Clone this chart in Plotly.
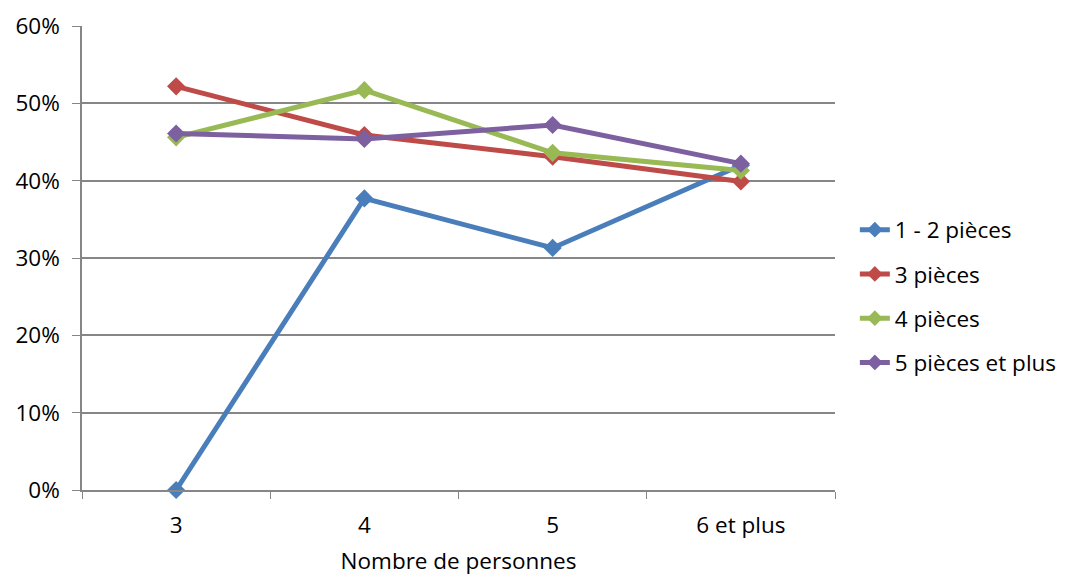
import plotly.graph_objects as go

categories = ["3", "4", "5", "6 et plus"]
series_names = ["1 - 2 pièces", "3 pièces", "4 pièces", "5 pièces et plus"]
pieces_1_2 = [0.0, 0.377, 0.313, 0.420]
pieces_3 = [0.522, 0.459, 0.431, 0.399]
pieces_4 = [0.456, 0.517, 0.436, 0.413]
pieces_5_plus = [0.461, 0.454, 0.472, 0.422]
y_ticks = [0, 0.1, 0.2, 0.3, 0.4, 0.5, 0.6]

colors = ["#4A7EBB", "#BE4B48", "#98B954", "#7D60A0"]
values = [pieces_1_2, pieces_3, pieces_4, pieces_5_plus]

FONT = "'Open Sans', Lato, sans-serif"
FS = 22.5
AXIS_GREY = "#868686"

fig = go.Figure()
for i, (name, vals, col) in enumerate(zip(series_names, values, colors)):
    fig.add_trace(go.Scatter(
        x=categories, y=vals, name=name, mode="lines+markers",
        legendgroup=f"g{i}",
        line=dict(color=col, width=5),
        marker=dict(symbol="diamond", size=14, color=col),
        cliponaxis=False,
    ))

fig.update_layout(
    width=1073, height=576,
    margin=dict(l=82, r=237, t=26, b=86),
    plot_bgcolor="white", paper_bgcolor="white",
    font=dict(family=FONT, size=FS, color="#000000"),
    showlegend=True,
    legend=dict(x=1.025, y=0.418, xanchor="left", yanchor="middle",
                font=dict(size=FS), tracegroupgap=12, itemsizing="constant",
                bgcolor="rgba(0,0,0,0)"),
    xaxis=dict(
        type="category", tickson="boundaries", ticks="outside", ticklen=7,
        tickcolor=AXIS_GREY, showline=True, linecolor=AXIS_GREY, linewidth=1.5,
        showgrid=False, zeroline=False, range=[-0.5, 3.5], automargin=False,
        title=dict(text="Nombre de personnes", standoff=24, font=dict(size=FS)),
        tickfont=dict(size=FS), ticklabelstandoff=14,
    ),
    yaxis=dict(
        range=[0, 0.6], tickvals=y_ticks, tickformat=".0%", automargin=False,
        ticks="outside", ticklen=8, tickcolor=AXIS_GREY,
        showline=True, linecolor=AXIS_GREY, linewidth=1.5,
        showgrid=True, gridcolor=AXIS_GREY, gridwidth=1.5, zeroline=False,
        tickfont=dict(size=FS), ticklabelstandoff=8,
    ),
)

fig.write_html("out.html")
